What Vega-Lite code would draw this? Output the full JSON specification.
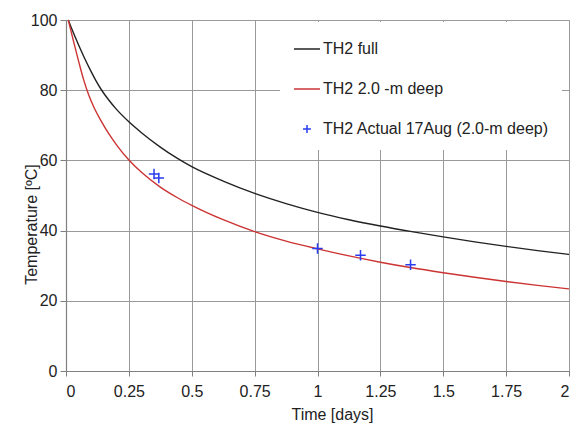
{
  "$schema": "https://vega.github.io/schema/vega-lite/v6.json",
  "width": 503,
  "height": 351,
  "autosize": "none",
  "padding": {"left": 66, "top": 20, "right": 10, "bottom": 57},
  "background": "white",
  "config": {
    "font": "Liberation Sans",
    "view": {"stroke": "#9a9a9a", "strokeWidth": 1},
    "axis": {
      "gridColor": "#9a9a9a",
      "gridWidth": 1,
      "gridOpacity": 1,
      "domainColor": "#808080",
      "domainWidth": 1.2,
      "tickColor": "#808080",
      "labelColor": "#222222",
      "titleColor": "#222222",
      "labelFont": "Liberation Sans",
      "titleFont": "Liberation Sans",
      "labelFontSize": 16,
      "titleFontSize": 16,
      "titleFontWeight": "normal"
    }
  },
  "datasets": {
    "curves": [
      {"t": 0.009, "temp": 100, "series": "TH2 full"},
      {"t": 0.02, "temp": 98.0, "series": "TH2 full"},
      {"t": 0.036, "temp": 95.2, "series": "TH2 full"},
      {"t": 0.072, "temp": 89.4, "series": "TH2 full"},
      {"t": 0.1, "temp": 85.3, "series": "TH2 full"},
      {"t": 0.12, "temp": 82.6, "series": "TH2 full"},
      {"t": 0.14, "temp": 80.2, "series": "TH2 full"},
      {"t": 0.17, "temp": 77.2, "series": "TH2 full"},
      {"t": 0.2, "temp": 74.6, "series": "TH2 full"},
      {"t": 0.25, "temp": 71.0, "series": "TH2 full"},
      {"t": 0.3, "temp": 67.9, "series": "TH2 full"},
      {"t": 0.375, "temp": 63.8, "series": "TH2 full"},
      {"t": 0.44, "temp": 60.7, "series": "TH2 full"},
      {"t": 0.5, "temp": 58.2, "series": "TH2 full"},
      {"t": 0.625, "temp": 54.1, "series": "TH2 full"},
      {"t": 0.75, "temp": 50.6, "series": "TH2 full"},
      {"t": 0.875, "temp": 47.7, "series": "TH2 full"},
      {"t": 1.0, "temp": 45.2, "series": "TH2 full"},
      {"t": 1.125, "temp": 43.1, "series": "TH2 full"},
      {"t": 1.25, "temp": 41.3, "series": "TH2 full"},
      {"t": 1.375, "temp": 39.7, "series": "TH2 full"},
      {"t": 1.5, "temp": 38.2, "series": "TH2 full"},
      {"t": 1.625, "temp": 36.8, "series": "TH2 full"},
      {"t": 1.75, "temp": 35.5, "series": "TH2 full"},
      {"t": 1.875, "temp": 34.3, "series": "TH2 full"},
      {"t": 2.0, "temp": 33.2, "series": "TH2 full"},
      {"t": 0.009, "temp": 100, "series": "TH2 2.0 -m deep"},
      {"t": 0.03, "temp": 93.9, "series": "TH2 2.0 -m deep"},
      {"t": 0.05, "temp": 88.3, "series": "TH2 2.0 -m deep"},
      {"t": 0.07, "temp": 83.0, "series": "TH2 2.0 -m deep"},
      {"t": 0.09, "temp": 78.7, "series": "TH2 2.0 -m deep"},
      {"t": 0.11, "temp": 75.3, "series": "TH2 2.0 -m deep"},
      {"t": 0.14, "temp": 71.2, "series": "TH2 2.0 -m deep"},
      {"t": 0.17, "temp": 67.6, "series": "TH2 2.0 -m deep"},
      {"t": 0.2, "temp": 64.5, "series": "TH2 2.0 -m deep"},
      {"t": 0.25, "temp": 60.1, "series": "TH2 2.0 -m deep"},
      {"t": 0.3, "temp": 56.6, "series": "TH2 2.0 -m deep"},
      {"t": 0.375, "temp": 52.4, "series": "TH2 2.0 -m deep"},
      {"t": 0.44, "temp": 49.5, "series": "TH2 2.0 -m deep"},
      {"t": 0.5, "temp": 47.2, "series": "TH2 2.0 -m deep"},
      {"t": 0.625, "temp": 43.1, "series": "TH2 2.0 -m deep"},
      {"t": 0.75, "temp": 39.7, "series": "TH2 2.0 -m deep"},
      {"t": 0.875, "temp": 37.0, "series": "TH2 2.0 -m deep"},
      {"t": 1.0, "temp": 34.8, "series": "TH2 2.0 -m deep"},
      {"t": 1.125, "temp": 32.8, "series": "TH2 2.0 -m deep"},
      {"t": 1.25, "temp": 31.0, "series": "TH2 2.0 -m deep"},
      {"t": 1.375, "temp": 29.4, "series": "TH2 2.0 -m deep"},
      {"t": 1.5, "temp": 28.0, "series": "TH2 2.0 -m deep"},
      {"t": 1.625, "temp": 26.7, "series": "TH2 2.0 -m deep"},
      {"t": 1.75, "temp": 25.5, "series": "TH2 2.0 -m deep"},
      {"t": 1.875, "temp": 24.4, "series": "TH2 2.0 -m deep"},
      {"t": 2.0, "temp": 23.4, "series": "TH2 2.0 -m deep"}
    ],
    "actual": [
      {"t": 0.35, "temp": 56.1, "series": "TH2 Actual 17Aug (2.0-m deep)"},
      {"t": 0.369, "temp": 55.0, "series": "TH2 Actual 17Aug (2.0-m deep)"},
      {"t": 1.0, "temp": 34.9, "series": "TH2 Actual 17Aug (2.0-m deep)"},
      {"t": 1.171, "temp": 33.0, "series": "TH2 Actual 17Aug (2.0-m deep)"},
      {"t": 1.37, "temp": 30.3, "series": "TH2 Actual 17Aug (2.0-m deep)"}
    ]
  },
  "encoding": {
    "x": {
      "field": "t",
      "type": "quantitative",
      "scale": {"domain": [0, 2], "nice": false, "zero": false},
      "axis": {
        "title": "Time [days]",
        "values": [0, 0.25, 0.5, 0.75, 1, 1.25, 1.5, 1.75, 2],
        "labelExpr": "'' + datum.value",
        "tickSize": 5,
        "labelPadding": 7,
        "titleX": 266,
        "titleY": 43,
        "titleBaseline": "middle",
        "titleAlign": "center"
      }
    },
    "y": {
      "field": "temp",
      "type": "quantitative",
      "scale": {"domain": [0, 100], "nice": false},
      "axis": {
        "title": "Temperature [ºC]",
        "values": [0, 20, 40, 60, 80, 100],
        "tickSize": 6,
        "labelPadding": 3,
        "titleX": -35,
        "titleY": 204,
        "titleAngle": -90,
        "titleAlign": "center",
        "titleBaseline": "middle"
      }
    },
    "color": {
      "field": "series",
      "type": "nominal",
      "scale": {
        "domain": ["TH2 full", "TH2 2.0 -m deep", "TH2 Actual 17Aug (2.0-m deep)"],
        "range": ["#222222", "#cc3333", "#2a3cf0"]
      },
      "legend": {
        "title": null,
        "orient": "none",
        "legendX": 214,
        "legendY": 2,
        "fillColor": "white",
        "padding": 13,
        "rowPadding": 18,
        "labelFont": "Liberation Sans",
        "labelFontSize": 16,
        "labelColor": "#222222",
        "labelOffset": 2,
        "labelLimit": 400,
        "symbolStrokeWidth": 1.5,
        "symbolType": "stroke",
        "symbolSize": 676,
        "encode": {
          "symbols": {
            "update": {
              "shape": {"signal": "datum.value === 'TH2 Actual 17Aug (2.0-m deep)' ? 'M-1,0L1,0M0,-1L0,1' : 'stroke'"},
              "size": {"signal": "datum.value === 'TH2 Actual 17Aug (2.0-m deep)' ? 64 : 676"},
              "fill": {"value": "transparent"}
            }
          }
        }
      }
    }
  },
  "layer": [
    {
      "data": {"name": "curves"},
      "mark": {"type": "line", "strokeWidth": 1.4, "interpolate": "monotone"}
    },
    {
      "data": {"name": "actual"},
      "mark": {"type": "point", "filled": false, "strokeWidth": 1.5, "size": 110, "shape": "M-1,0L1,0M0,-1L0,1", "opacity": 1}
    }
  ]
}
